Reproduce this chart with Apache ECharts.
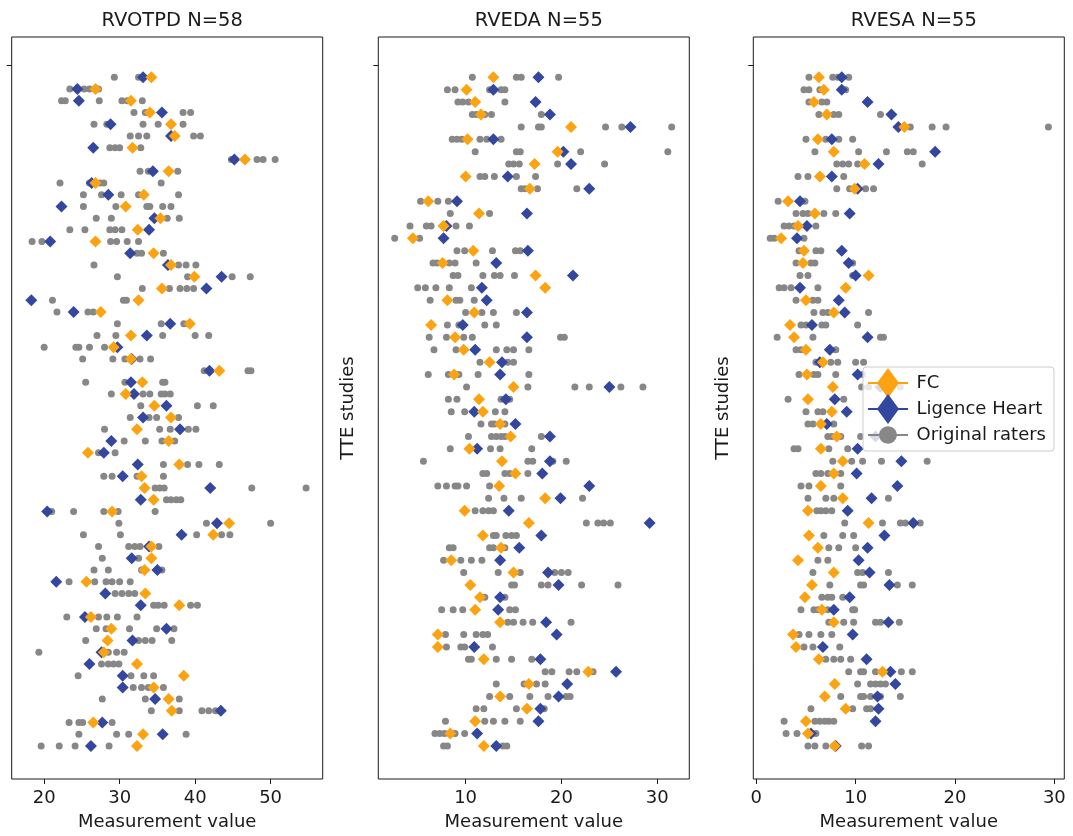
<!DOCTYPE html>
<html>
<head>
<meta charset="utf-8">
<script src="https://cdn.jsdelivr.net/npm/echarts@6/dist/echarts.min.js"></script>
<style>
  html, body { margin: 0; padding: 0; background: #fff; }
  #chart { width: 1073px; height: 836px; }
</style>
</head>
<body>
<div id="chart"></div>
<script>
// RVOTPD: one entry per study (row), top to bottom
const rvotpdFC = [34.2, 26.8, 31.5, 34.0, 36.8, 37.3, 31.7, 46.6, 36.5, 26.8, 33.2, 30.8, 35.4, 32.4, 26.8, 34.5, 36.8, 39.9, 35.6, 32.5, 27.5, 39.3, 31.5, 29.2, 31.5, 43.2, 33.0, 30.8, 34.6, 36.8, 32.3, 36.5, 25.8, 37.9, 32.9, 33.3, 34.5, 29.0, 44.5, 42.4, 34.2, 34.2, 33.3, 25.6, 33.4, 37.9, 26.2, 28.9, 28.4, 27.9, 32.3, 38.5, 34.5, 36.5, 36.9, 26.5, 33.1, 32.3];
const rvotpdLH = [33.1, 24.4, 24.6, 35.6, 28.8, 36.8, 26.5, 45.2, 34.4, 26.3, 28.5, 22.3, 34.6, 33.9, 20.8, 31.4, 36.4, 43.5, 41.5, 18.3, 23.9, 36.7, 33.6, 29.7, 31.6, 41.9, 31.5, 31.9, 36.2, 33.1, 38.0, 28.9, 27.9, 32.4, 30.4, 42.0, 32.8, 20.4, 42.9, 38.2, 33.9, 31.6, 35.0, 21.6, 28.1, 32.8, 25.4, 36.2, 31.7, 27.6, 26.0, 30.4, 30.4, 34.7, 43.4, 27.7, 35.7, 26.2];
const rvotpdRaters = [
  [29.3, 32.5, 33.0], [23.4, 25.3, 26.0, 27.2], [22.3, 22.8, 27.3, 30.3, 31.0, 33.0], [31.9, 33.4, 38.4, 39.4],
  [26.6, 28.3, 33.1, 35.1, 38.4], [31.4, 32.5, 33.6, 39.8, 40.7], [28.7, 29.4, 30.0, 32.8], [44.8, 48.2, 49.0, 50.6],
  [32.7, 33.8, 37.7], [22.1, 26.0, 27.4, 27.9, 35.5], [25.2, 27.6, 30.2, 32.5, 37.8], [25.2, 29.5, 33.6, 34.0, 35.7, 36.8],
  [26.9, 28.9, 36.3, 37.9], [23.4, 25.4, 28.7, 29.4, 30.3], [18.4, 19.7, 28.8, 29.6, 31.0, 32.5], [32.3, 32.9, 35.8],
  [26.6, 37.8, 38.8, 40.1], [29.7, 39.0, 44.9, 47.3], [33.0, 36.6, 38.0, 38.9, 39.8], [21.1, 30.5, 30.9],
  [21.7, 25.8, 26.5], [29.7, 35.5, 38.5, 39.1], [27.0, 29.5, 35.7, 40.0, 41.8], [20.0, 24.2, 24.6, 26.0, 28.0],
  [25.1, 29.1, 30.7, 32.7, 34.1], [41.2, 47.0, 47.4], [25.5, 30.7, 35.7, 36.0], [28.9, 33.1, 34.0, 35.5, 36.0, 36.7],
  [32.8, 40.3, 42.4], [31.4, 33.9, 34.9, 37.8], [28.0, 35.3, 36.7, 39.1, 40.1], [30.6, 33.4, 35.6, 37.3],
  [27.2, 29.4], [35.8, 39.0, 40.5, 43.2], [27.9, 29.0, 32.3, 35.8], [34.7, 35.3, 35.9, 47.5, 54.7],
  [36.2, 36.8, 37.5, 38.1], [21.0, 23.9, 27.9, 29.8, 34.7], [29.9, 41.5, 50.0], [25.2, 30.1, 40.2, 43.5, 44.6],
  [27.2, 31.2, 32.0, 32.7, 35.2], [27.7, 32.5], [26.6, 28.5, 32.9, 35.6], [23.3, 26.7, 28.2, 29.0, 30.0, 31.4],
  [29.4, 30.3, 31.2, 32.0], [34.5, 35.1, 35.9, 39.4, 40.3], [23.0, 27.2, 28.3, 29.7, 32.3], [26.9, 28.2, 31.3, 34.9, 37.2],
  [25.5, 32.5, 33.4, 34.3, 36.9], [19.3, 28.5, 29.6, 30.6], [27.6, 28.5, 29.2, 29.9], [24.5, 31.5, 33.2, 34.5],
  [31.8, 32.9, 33.8, 35.8], [27.7, 33.4, 37.9], [34.2, 37.9, 40.9, 41.8, 42.7], [23.3, 24.6, 25.1, 29.0],
  [24.6, 29.6, 31.2, 38.8], [19.6, 22.0, 24.1, 28.6]
];

// RVEDA
const rvedaFC = [12.9, 10.1, 11.0, 11.6, 21.0, 10.2, 19.6, 17.2, 10.0, 16.7, 6.1, 11.4, 7.7, 4.5, 10.8, 7.6, 17.3, 18.3, 8.1, 10.9, 6.4, 8.9, 9.8, 12.5, 8.8, 15.0, 11.4, 11.8, 13.6, 14.7, 10.4, 13.8, 15.2, 13.5, 18.3, 9.9, 16.6, 11.8, 13.7, 8.5, 15.0, 10.5, 11.5, 11.0, 13.6, 7.1, 7.1, 11.9, 22.8, 16.6, 13.6, 16.4, 11.0, 8.4, 11.9];
const rvedaLH = [17.6, 12.9, 17.3, 18.8, 27.2, 12.9, 20.2, 21.0, 14.4, 22.9, 9.1, 16.4, 8.0, 7.7, 16.5, 13.2, 21.2, 11.7, 12.2, 16.4, 9.7, 16.4, 11.0, 13.8, 13.6, 25.0, 14.2, 10.9, 15.2, 18.8, 11.2, 18.8, 18.0, 22.9, 19.9, 14.5, 29.2, 17.9, 15.6, 13.6, 18.6, 19.7, 13.6, 13.4, 18.4, 19.5, 10.9, 17.8, 25.7, 20.6, 19.7, 17.8, 17.6, 11.2, 13.2];
const rvedaRaters = [
  [10.7, 15.3, 15.8, 19.7], [8.1, 8.9, 12.5, 13.7, 14.1], [9.2, 9.7, 10.3, 14.1], [10.7, 11.1, 12.0, 12.7, 17.9],
  [15.8, 17.6, 17.9, 24.6, 26.3, 31.5], [8.6, 9.1, 9.6, 11.5, 12.2, 13.7], [11.0, 15.3, 15.7, 22.0, 31.1], [14.5, 15.0, 15.6, 19.6, 24.5],
  [11.5, 12.0, 13.0, 15.3, 17.3], [15.8, 16.2, 17.5, 21.6], [5.3, 7.1, 8.2], [8.4, 12.5],
  [4.2, 5.9, 6.4, 9.0, 10.4], [2.6, 5.2], [9.1, 9.9, 12.8, 15.2, 15.7], [6.6, 7.0, 8.3, 8.9, 11.1],
  [8.7, 9.2, 11.8, 13.0, 13.6, 15.1], [5.0, 5.8, 6.9, 8.3, 10.6], [6.3, 9.0, 9.4, 10.9], [10.0, 11.7, 12.9, 15.3],
  [8.1, 9.3, 12.0, 13.2], [6.2, 8.0, 9.8, 10.7, 19.9, 20.3], [6.7, 9.0, 13.2, 14.3, 15.0, 16.6], [11.5, 14.4, 15.0],
  [6.1, 8.2, 9.3, 11.3, 16.6], [10.1, 16.5, 21.4, 22.9, 26.2, 28.5], [8.2, 9.1, 13.7, 14.6], [8.5, 9.9, 13.1, 14.1],
  [11.6, 12.7, 13.0, 14.1], [10.3, 12.7, 13.2, 13.7, 14.1, 17.9], [8.4, 12.6, 13.6, 16.9], [5.6, 16.5, 17.0, 19.1, 20.5],
  [11.8, 12.2, 14.1, 14.6, 16.5], [7.1, 8.0, 8.9, 9.2, 10.1, 12.5], [12.4, 14.0, 15.8, 22.2], [11.0, 11.8, 12.4, 12.9],
  [22.6, 23.8, 24.4, 25.1], [12.9, 13.2, 14.2, 14.8, 15.3], [8.3, 8.7, 12.5, 12.9, 14.1], [7.7, 9.5, 10.6, 11.7],
  [9.8, 13.4, 15.7, 19.3, 20.0, 20.7], [14.8, 15.1, 17.9, 18.6, 22.1, 25.9], [12.0, 14.1], [7.5, 8.7, 9.7, 14.6, 15.2],
  [14.4, 15.0, 16.0, 17.0, 21.0], [7.9, 9.8, 11.1, 11.8, 12.3], [8.0, 9.5, 9.9, 12.8], [10.3, 10.6, 13.2, 14.8, 16.9],
  [18.3, 19.0, 20.8, 21.6, 23.3], [13.2, 16.1, 17.4, 18.3], [12.5, 14.6, 16.7, 18.6, 20.5, 20.9], [11.1, 11.9, 15.3, 18.2],
  [7.9, 12.0, 12.9, 14.1, 15.7], [6.8, 7.3, 7.8, 8.9, 9.9], [7.7, 8.1, 13.9, 14.3]
];

// RVESA
const rvesaFC = [6.3, 6.8, 5.8, 7.1, 14.9, 6.2, 7.8, 10.9, 6.4, 9.9, 3.2, 5.9, 4.2, 2.5, 4.8, 4.7, 11.3, 9.0, 5.0, 7.8, 3.4, 3.8, 5.0, 6.7, 5.1, 7.7, 5.2, 7.6, 6.5, 8.1, 6.5, 8.7, 7.8, 6.5, 8.7, 5.2, 11.3, 5.3, 6.2, 4.2, 7.8, 5.6, 4.9, 6.6, 7.8, 3.7, 4.0, 6.3, 12.7, 7.9, 6.9, 9.0, 5.0, 5.2, 7.9];
const rvesaLH = [8.6, 8.6, 11.2, 13.6, 14.3, 7.6, 18.0, 12.3, 7.6, 10.2, 4.4, 9.4, 5.1, 4.1, 8.6, 9.3, 10.0, 4.4, 8.3, 8.9, 5.6, 11.2, 7.4, 6.4, 10.2, 12.5, 7.9, 9.1, 7.1, 12.0, 10.2, 14.6, 10.1, 14.2, 11.6, 9.2, 15.8, 12.9, 11.2, 10.3, 11.4, 13.4, 9.4, 7.8, 13.3, 9.7, 6.7, 11.1, 13.5, 14.0, 12.2, 12.3, 12.0, 5.5, 8.0];
const rvesaRaters = [
  [5.3, 7.7, 8.2, 9.3], [4.8, 5.3, 6.4, 9.0], [5.3, 6.6, 7.1], [6.3, 7.8, 8.3, 12.5],
  [15.5, 17.7, 19.1, 29.4], [5.0, 7.0, 8.3, 9.7], [5.9, 10.3, 13.1, 15.2, 15.8], [8.1, 8.7, 9.3, 10.2, 16.7],
  [4.2, 5.2, 8.8], [8.1, 9.4, 11.0, 11.8], [2.2, 4.9], [4.0, 4.7, 5.2, 6.8, 8.0],
  [2.8, 3.3, 3.8, 6.0], [1.4, 1.8, 4.8], [4.3, 6.0, 6.5], [4.0, 5.5, 5.9, 9.7],
  [4.4, 5.2, 9.7], [2.3, 2.8, 3.5, 6.2], [4.0, 5.7, 6.2], [5.8, 6.7, 7.2, 11.3],
  [4.5, 5.0, 6.6, 7.0, 10.2], [2.1, 5.7, 12.5, 12.8], [4.0, 4.5, 8.0], [6.0, 7.5, 8.2, 10.0, 10.8],
  [4.3, 5.8, 6.2, 8.0, 10.7], [10.6, 11.3, 14.5], [3.2, 8.8], [5.0, 6.2, 6.7],
  [5.2, 5.7, 7.8], [7.2, 7.6, 8.5, 10.5], [3.8, 4.2, 7.3, 9.2], [7.7, 9.6, 10.7, 12.6, 17.2],
  [6.0, 6.5, 7.2, 8.5], [4.5, 5.3, 8.5], [5.2, 7.0, 7.8, 13.3], [6.1, 6.5, 7.0, 7.6],
  [8.9, 12.7, 14.5, 15.0, 16.5], [6.8, 8.7, 9.8], [7.3, 8.3, 10.0], [6.2, 7.2],
  [5.7, 10.2, 10.7, 13.3], [7.4, 10.5, 10.8, 14.2, 15.7], [6.6, 7.2, 7.6, 8.7], [4.5, 5.8, 6.2, 7.2, 9.7, 9.9],
  [7.3, 8.8, 9.8, 12.0, 12.5, 14.4], [4.3, 5.3, 6.5, 7.6], [4.8, 5.7, 8.4], [7.0, 7.8, 8.5, 9.5],
  [9.3, 10.5, 10.8, 12.0, 14.6, 15.7], [10.2, 11.5, 12.0, 12.5, 13.0], [8.5, 10.5, 10.8, 11.5, 12.5, 14.5], [5.5, 9.7, 11.1, 11.5],
  [2.8, 5.9, 6.4, 6.9, 7.3, 7.8], [3.0, 4.1, 6.0], [5.2, 5.9, 7.0, 7.8, 10.6, 11.3]
];

const rvotpdTicks = [20, 30, 40, 50];
const rvedaTicks = [10, 20, 30];
const rvesaTicks = [0, 10, 20, 30];
const studyTick = [-1];

const FONT = "DejaVu Sans";
const INK = "#1a1a1a";
const ORANGE = "#fca311";
const BLUE = "#34479f";
const GRAY = "#878787";

const panels = [
  { title: "RVOTPD N=58", fc: rvotpdFC, lh: rvotpdLH, raters: rvotpdRaters, ticks: rvotpdTicks,
    xMin: 15.7, xMax: 56.9, yMin: -3.44, yMax: 59.81, left: 11.7, yName: "" },
  { title: "RVEDA N=55", fc: rvedaFC, lh: rvedaLH, raters: rvedaRaters, ticks: rvedaTicks,
    xMin: 0.89, xMax: 33.34, yMin: -3.26, yMax: 56.67, left: 378.3, yName: "TTE studies" },
  { title: "RVESA N=55", fc: rvesaFC, lh: rvesaLH, raters: rvesaRaters, ticks: rvesaTicks,
    xMin: -0.3, xMax: 31.0, yMin: -3.26, yMax: 56.67, left: 753.3, yName: "TTE studies" }
];
const GRID_W = 311;

// legend handles: short line with the marker on it; the circle one carries
// two empty sub-paths so its box is as tall as the diamond one
const diamondIcon = "path://M0,14L9.7,14L20,0L30.3,14L40,14L40,16L30.3,16L20,30L9.7,16L0,16Z";
const circleIcon = "path://M20,0L20.01,0L20,0ZM20,30L20.01,30L20,30Z" +
  "M0,14L11.1,14A9,9,0,0,1,28.9,14L40,14L40,16L28.9,16A9,9,0,0,1,11.1,16L0,16Z";

const option = {
  animation: false,
  textStyle: { fontFamily: FONT, color: INK },

  title: panels.map(p => ({
    text: p.title,
    left: p.left + GRID_W / 2,
    top: 6,
    textAlign: "center",
    textStyle: { fontFamily: FONT, fontSize: 19.5, fontWeight: "normal", color: INK }
  })),

  legend: {
    orient: "vertical",
    left: 863,
    top: 367,
    data: [
      { name: "FC", icon: diamondIcon },
      { name: "Ligence Heart", icon: diamondIcon },
      { name: "Original raters", icon: circleIcon }
    ],
    itemWidth: 47,
    itemHeight: 30,
    itemGap: -4,
    symbolKeepAspect: true,
    padding: [1, 8, 1, 5],
    backgroundColor: "rgba(255,255,255,0.8)",
    borderColor: "#cccccc",
    borderWidth: 1,
    borderRadius: 3,
    selectedMode: false,
    textStyle: { fontFamily: FONT, fontSize: 18, color: INK }
  },

  grid: panels.map(p => ({
    left: p.left,
    top: 37,
    width: GRID_W,
    height: 742,
    show: true,
    borderColor: INK,
    borderWidth: 1,
    backgroundColor: "#fff",
    containLabel: false,
    outerBoundsMode: "none"
  })),

  xAxis: panels.map((p, i) => ({
    type: "value",
    gridIndex: i,
    min: p.xMin,
    max: p.xMax,
    name: "Measurement value",
    nameLocation: "middle",
    nameGap: 34,
    nameTextStyle: { fontFamily: FONT, fontSize: 18, color: INK },
    axisLine: { show: false, onZero: false },
    splitLine: { show: false },
    axisTick: { show: true, length: 5, lineStyle: { color: INK }, customValues: p.ticks },
    axisLabel: { customValues: p.ticks, margin: 10, fontFamily: FONT, fontSize: 18, color: INK }
  })),

  yAxis: panels.map((p, i) => ({
    type: "value",
    gridIndex: i,
    inverse: true,
    min: p.yMin,
    max: p.yMax,
    name: p.yName,
    nameLocation: "middle",
    nameRotate: 90,
    nameGap: 21,
    nameTextStyle: { fontFamily: FONT, fontSize: 18, color: INK },
    axisLine: { show: false, onZero: false },
    splitLine: { show: false },
    axisTick: { show: true, length: 5, lineStyle: { color: INK }, customValues: studyTick },
    axisLabel: { show: false }
  })),

  series: panels.flatMap((p, i) => [
    {
      type: "scatter",
      name: "Original raters",
      xAxisIndex: i,
      yAxisIndex: i,
      symbol: "circle",
      symbolSize: 7,
      itemStyle: { color: GRAY, opacity: 1 },
      z: 2,
      data: p.raters.flatMap((vals, row) => vals.map(v => [v, row]))
    },
    {
      type: "scatter",
      name: "Ligence Heart",
      xAxisIndex: i,
      yAxisIndex: i,
      symbol: "diamond",
      symbolSize: 12,
      itemStyle: { color: BLUE, opacity: 1 },
      z: 3,
      data: p.lh.map((v, row) => [v, row])
    },
    {
      type: "scatter",
      name: "FC",
      xAxisIndex: i,
      yAxisIndex: i,
      symbol: "diamond",
      symbolSize: 12,
      itemStyle: { color: ORANGE, opacity: 1 },
      z: 4,
      data: p.fc.map((v, row) => [v, row])
    }
  ])
};

const chart = echarts.init(document.getElementById("chart"));
chart.setOption(option);
window.addEventListener("resize", () => chart.resize());
</script>
</body>
</html>
